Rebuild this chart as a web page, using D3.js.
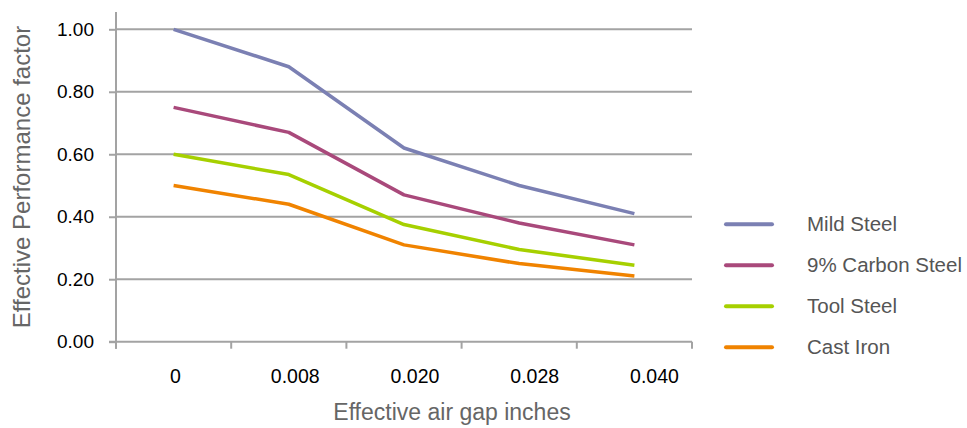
<!DOCTYPE html>
<html>
<head>
<meta charset="utf-8">
<script src="https://cdn.jsdelivr.net/npm/d3@7"></script>
<style>
  body { margin: 0; background: #fff; }
  svg { display: block; }
</style>
</head>
<body>
<svg id="chart" width="967" height="428"></svg>
<script>
// Chart data
const gaps = ["0", "0.008", "0.020", "0.028", "0.040"];
const seriesNames = ["Mild Steel", "9% Carbon Steel", "Tool Steel", "Cast Iron"];
const mildSteel = [1.00, 0.88, 0.62, 0.50, 0.41];
const carbonSteel = [0.75, 0.67, 0.47, 0.38, 0.31];
const toolSteel = [0.60, 0.535, 0.375, 0.295, 0.245];
const castIron = [0.50, 0.44, 0.31, 0.25, 0.21];
const yTicks = [0, 0.2, 0.4, 0.6, 0.8, 1.0];
const colors = ["#7b80b3", "#a9497b", "#a6d000", "#f08300"];

const series = [mildSteel, carbonSteel, toolSteel, castIron];

const svg = d3.select("#chart");
const plotLeft = 116, plotRight = 692, plotTop = 29.3, plotBottom = 341.7;
const font = "'Liberation Sans', Arial, sans-serif";

// Scales
const x = d3.scaleBand().domain(gaps).range([plotLeft, plotRight]);
const y = d3.scaleLinear().domain([0, 1]).range([plotBottom, plotTop]);
// tick labels sit a little wider apart than the points in the original
const xLabel = d3.scalePoint().domain(gaps).range([175, 654]);

// Gridlines
svg.append("g")
  .selectAll("line")
  .data(yTicks.filter(d => d > 0))
  .join("line")
  .attr("x1", plotLeft).attr("x2", plotRight)
  .attr("y1", d => y(d)).attr("y2", d => y(d))
  .attr("stroke", "#a3a3a3").attr("stroke-width", 2);

// Y axis
const yAxis = svg.append("g")
  .attr("transform", `translate(${plotLeft},0)`)
  .call(d3.axisLeft(y).tickValues(yTicks).tickFormat(d3.format(".2f")).tickSize(7).tickPadding(15));
yAxis.select(".domain").remove();
yAxis.selectAll(".tick line").attr("stroke", "#a3a3a3").attr("stroke-width", 2);
yAxis.selectAll(".tick text")
  .attr("fill", "#000")
  .style("font-family", font)
  .style("font-size", "19px");
svg.append("line")
  .attr("x1", plotLeft).attr("x2", plotLeft)
  .attr("y1", 12).attr("y2", plotBottom + 7)
  .attr("stroke", "#a3a3a3").attr("stroke-width", 2);

// X axis
const xAxis = svg.append("g")
  .attr("transform", `translate(0,${plotBottom})`)
  .call(d3.axisBottom(xLabel).tickSize(0).tickPadding(27));
xAxis.select(".domain").remove();
xAxis.selectAll(".tick text")
  .attr("fill", "#000")
  .style("font-family", font)
  .style("font-size", "19.5px");
svg.append("line")
  .attr("x1", plotLeft - 7).attr("x2", plotRight)
  .attr("y1", plotBottom).attr("y2", plotBottom)
  .attr("stroke", "#a3a3a3").attr("stroke-width", 2);
// category boundary ticks
const bounds = gaps.map(g => x(g)).concat([plotRight]);
svg.append("g")
  .selectAll("line")
  .data(bounds)
  .join("line")
  .attr("x1", d => d).attr("x2", d => d)
  .attr("y1", plotBottom).attr("y2", plotBottom + 7)
  .attr("stroke", "#a3a3a3").attr("stroke-width", 2);

// Lines
const line = d3.line()
  .x((d, i) => x(gaps[i]) + x.bandwidth() / 2)
  .y(d => y(d));

svg.append("g")
  .selectAll("path")
  .data(series)
  .join("path")
  .attr("d", d => line(d))
  .attr("fill", "none")
  .attr("stroke", (d, i) => colors[i])
  .attr("stroke-width", 3.5)
  .attr("stroke-linejoin", "round");

// Axis titles
svg.append("text")
  .attr("transform", "translate(30,177) rotate(-90)")
  .attr("text-anchor", "middle")
  .attr("fill", "#666")
  .style("font-family", font)
  .style("font-size", "24px")
  .text("Effective Performance factor");

svg.append("text")
  .attr("x", 452).attr("y", 420)
  .attr("text-anchor", "middle")
  .attr("fill", "#666")
  .style("font-family", font)
  .style("font-size", "23px")
  .text("Effective air gap inches");

// Legend
const legend = svg.append("g")
  .selectAll("g")
  .data(seriesNames)
  .join("g")
  .attr("transform", (d, i) => `translate(726,${224.3 + i * 41})`);
legend.append("line")
  .attr("x1", 0).attr("x2", 46)
  .attr("stroke", (d, i) => colors[i])
  .attr("stroke-width", 4)
  .attr("stroke-linecap", "round");
legend.append("text")
  .attr("x", 81)
  .attr("dy", "0.35em")
  .attr("fill", "#555")
  .style("font-family", font)
  .style("font-size", "20.5px")
  .text(d => d);
</script>
</body>
</html>
